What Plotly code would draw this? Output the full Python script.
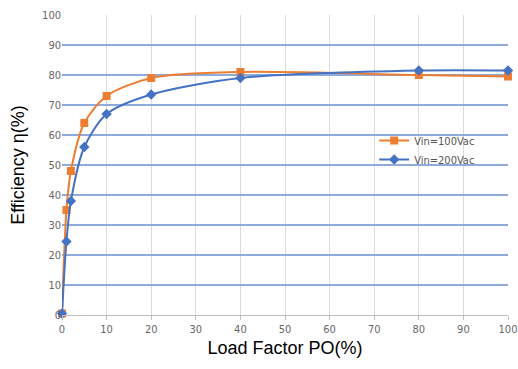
import plotly.graph_objects as go

load = [0, 1, 2, 5, 10, 20, 40, 80, 100]
eff_100 = [0.5, 35, 48, 64, 73, 79, 81, 80, 79.5]
eff_200 = [0.5, 24.5, 38, 56, 67, 73.5, 79, 81.5, 81.5]
xticks = list(range(0, 101, 10))
yticks = list(range(0, 101, 10))

fig = go.Figure()
fig.add_trace(go.Scatter(x=load, y=eff_100, name="Vin=100Vac", mode="lines+markers", cliponaxis=False,
                         line=dict(color="#ED7D31", width=2, shape="spline", smoothing=0.8),
                         marker=dict(symbol="square", size=8, color="#ED7D31")))
fig.add_trace(go.Scatter(x=load, y=eff_200, name="Vin=200Vac", mode="lines+markers", cliponaxis=False,
                         line=dict(color="#4472C4", width=2, shape="spline", smoothing=0.8),
                         marker=dict(symbol="diamond", size=8, color="#4472C4")))

narrow = "DejaVu Sans Condensed, Liberation Sans Narrow, Liberation Sans, sans-serif"
tickfont = dict(family=narrow, size=11, color="#666666")
fig.update_layout(
    width=518, height=369,
    margin=dict(l=62, r=10, t=15, b=54, autoexpand=False),
    paper_bgcolor="white", plot_bgcolor="white",
    showlegend=True,
    legend=dict(x=0.70, y=0.63, xanchor="left", yanchor="top", bgcolor="rgba(0,0,0,0)",
                font=dict(family=narrow, size=11, color="#555555"),
                tracegroupgap=12, itemwidth=30),
    xaxis=dict(range=[0, 100], tickvals=xticks, showgrid=True, gridcolor="#dcdcdc", gridwidth=1,
               zeroline=False, showline=True, linecolor="#bfbfbf", ticks="outside", ticklen=4,
               tickcolor="#bfbfbf", tickfont=tickfont, automargin=False, ticklabeloverflow="allow",
               title=dict(text="Load Factor PO(%)", font=dict(family="Liberation Sans, Arial", size=18, color="black"), standoff=6)),
    yaxis=dict(range=[0, 100], tickvals=yticks, showgrid=True, gridcolor="#8FAADC", gridwidth=1.5,
               zeroline=False, showline=False, tickfont=tickfont, automargin=False,
               title=dict(text="Efficiency η(%)", font=dict(family="Liberation Sans, Arial", size=18, color="black"), standoff=12)),
)

fig.write_html("out.html", config={"displayModeBar": False},
               post_script="document.body.style.margin='0';document.body.style.overflow='hidden';")
